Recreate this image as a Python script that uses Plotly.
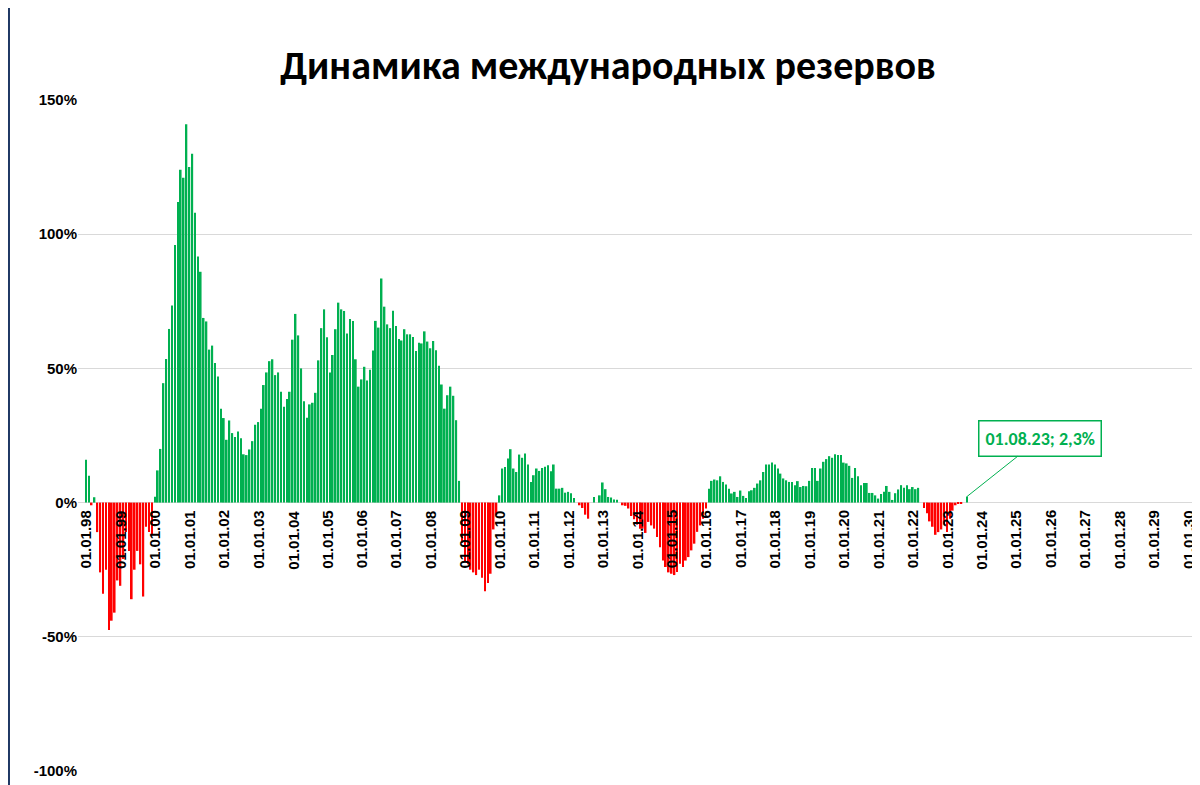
import plotly.graph_objects as go
import pandas as pd

# Monthly y/y growth of reserves, %, Jan 1998 .. Aug 2023
seg_1998_2002 = [16, 10, -1, 2,
                 -11, -26, -34, -25, -47.5, -44, -41, -29, -31, -21, -11, -18, -36, -25, -18, -23, -35, -9, -11, -12,
                 2.2, 12, 20, 44.5, 53.5, 64.7, 73.4, 96, 112, 124, 121, 141, 125, 130, 108, 91.7, 86, 68.8, 67.5, 57,
                 58.5, 52, 47, 35, 31.5, 23.4, 30.6, 25.9, 24.4, 26.5]
seg_2002_2008 = [24, 18, 17.7, 19.8, 22.9, 29, 30, 35, 43.8, 48.5, 52.7, 53.4, 47.5, 48.5, 41.3, 35.7, 38.6, 41.3,
                 60.7, 70.3, 62.3, 50, 37.8, 31.6, 36.6, 37.2, 40.9, 53, 65, 72, 61.6, 48.5, 55, 64.6, 74.5, 72,
                 71.4, 63, 68.4, 67.7, 53.4, 43.2, 45.9, 50.6, 45.5, 49.5, 56.7, 67.7, 65.2, 83.5, 73, 66.4, 65,
                 71.5, 65.8, 61, 60.4, 64.6, 62.7, 62.7, 61.7, 56.5, 59.6, 59.3, 63.8, 60, 57.5, 60.2, 56.8, 51,
                 44, 35, 40, 43.2, 39.8, 30.7, 8.1]
seg_2009 = [-15, -22, -23, -25, -26, -27, -25, -28, -33, -30, -26.5, -10, -4.7]
seg_2010_2012 = [2.7, 12.7, 13.3, 16.4, 19.9, 12.7, 11.4, 17.9, 16.7, 18.3, 14.2, 7.7, 10.2, 12.7, 11.8, 12.9,
                 13.4, 13.9, 11.7, 14.2, 5.2, 5.2, 5.5, 3.7, 4, 3.5, 1.7, 0]
seg_2012_2013 = [-1, -2, -4.5, -6, 0, 2.1, 0, 2.7, 7.5, 5, 2.1, 1.9, 1.2, 1.1, 0]
seg_2013_2015 = [-1, -1.2, -2.2, -5, -6.2, -8.2, -9.7, -9.7, -11.3, -7.2, -8.5, -9.7, -12.8, -16.6, -21.6, -24,
                 -26, -26.5, -27, -25.9, -22.8, -24, -21.6, -20.3, -17.8, -15.3, -10.9, -8.5, -6, -2.2]
seg_2016_2022 = [5.2, 8.1, 8.6, 8.3, 9.8, 7.7, 6.7, 5.2, 3.4, 4, 2.1, 4.5, 2.5, 1.7, 4.2, 4.6, 5.5, 7.1, 8.3, 11.4,
                 14.2, 14.2, 14.9, 14.2, 12.7, 10.8, 9, 8.3, 7.7, 7.7, 6.5, 8, 5.8, 6.2, 6.1, 8.1, 12.9, 12.9, 8.1,
                 12.7, 15.2, 16.2, 17.3, 16.7, 18, 17.7, 17.7, 14.9, 14.6, 13.7, 9.2, 12.9, 9.8, 6.5, 7.3, 7.3, 3.6,
                 3.6, 2.7, 1.5, 3.2, 4, 6.2, 4, 1, 3.5, 4.9, 6.5, 5.5, 6.5, 5, 5.8, 5, 5.5, 0]
seg_2022_2023 = [-2, -4, -7, -9, -12, -11, -10, -8, -11, -6, -3, -1, -0.5, -0.3, 0, 2.3]

values = (seg_1998_2002 + seg_2002_2008 + seg_2009 + seg_2010_2012 + seg_2012_2013
          + seg_2013_2015 + seg_2016_2022 + seg_2022_2023)
dates = pd.date_range("1998-01-01", "2023-08-01", freq="MS")
n = len(dates)
values = (values + [0] * n)[:n] if len(values) < n else values[len(values) - n:]

year_ticks = pd.date_range("1998-01-01", "2030-01-01", freq="YS")
tick_labels = [d.strftime("%d.%m.%y") for d in year_ticks]

colors = ["#00B050" if v >= 0 else "#FF0000" for v in values]

fig = go.Figure(go.Bar(x=dates, y=values, marker=dict(color=colors, line=dict(width=0))))

for d, lab in zip(year_ticks, tick_labels):
    fig.add_annotation(x=d, y=0, text="<b>" + lab + "</b>", textangle=-90, showarrow=False, yanchor="top",
                       yshift=-6, font=dict(family="Arial, Liberation Sans", size=15, color="black"))

fig.add_annotation(x=dates[-1], y=values[-1], text="<b>01.08.23; 2,3%</b>", showarrow=True,
                   arrowhead=0, arrowcolor="#00B050", arrowwidth=1, ax=73, ay=-58,
                   bordercolor="#00B050", borderwidth=1.5, borderpad=6, bgcolor="white",
                   font=dict(family="Calibri, Carlito, Liberation Sans", size=18, color="#00B050"))

fig.add_shape(type="rect", xref="paper", yref="paper", x0=-0.0619, x1=1.0117, y0=-0.0298, y1=1.3696,
              line=dict(color="#1F3864", width=2))

fig.update_layout(
    width=1200, height=785, plot_bgcolor="white", paper_bgcolor="white",
    margin=dict(l=70, r=15, t=92, b=22, autoexpand=False), bargap=0.35, showlegend=False,
    title=dict(text="<b>Динамика международных резервов</b>", x=0.5, xanchor="center", y=0.945,
               font=dict(family="Calibri, Carlito, Liberation Sans", size=40, color="black")),
    xaxis=dict(range=["1997-10-08", "2030-02-20"], showticklabels=False, showgrid=False,
               zeroline=False, showline=False),
    yaxis=dict(range=[-100, 150], tickvals=[-100, -50, 0, 50, 100, 150],
               ticktext=["<b>-100%</b>", "<b>-50%</b>", "<b>0%</b>", "<b>50%</b>", "<b>100%</b>", "<b>150%</b>"],
               tickfont=dict(family="Arial, Liberation Sans", size=15, color="black"),
               gridcolor="#D9D9D9", gridwidth=1, zeroline=True, zerolinecolor="#D9D9D9",
               zerolinewidth=1, ticks="", showline=False, automargin=False),
)
fig.write_html("out.html")
